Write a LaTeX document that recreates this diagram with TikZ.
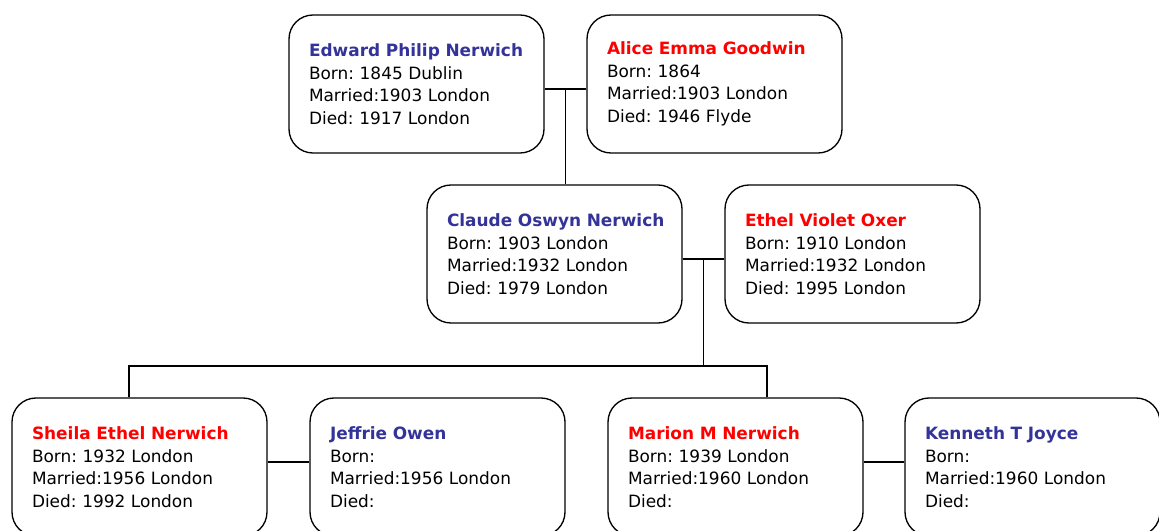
\documentclass[tikz,border=0pt]{standalone}
\usepackage{fontspec}
\setmainfont{DejaVu Sans}
\frenchspacing
\definecolor{mancol}{HTML}{333399}
\definecolor{womancol}{HTML}{FF0000}
\tikzset{
  person/.style={draw,line width=1pt,rounded corners=18pt,
    text width=161.25pt,inner xsep=15pt,inner ysep=0pt,
    minimum height=103.5pt,align=left,
    font=\fontsize{12.7}{16.9}\selectfont},
  link/.style={line width=0.8pt}
}
\newcommand{\him}[1]{\mbox{\textcolor{mancol}{\textbf{#1}}}}
\newcommand{\her}[1]{\mbox{\textcolor{womancol}{\textbf{#1}}}}
\begin{document}
\begin{tikzpicture}[x=0.75pt,y=-0.75pt]
\useasboundingbox (0,0) rectangle (1159,531);
\clip (0,0) rectangle (1159,531);
% first generation
\node[person] (edward) at (416.5,84) {\him{Edward Philip Nerwich}\\Born: 1845 Dublin\\Married:1903 London\\Died: 1917 London};
\node[person] (alice) at (714.5,84) {\her{Alice Emma Goodwin}\\Born: 1864\\Married:1903 London\\Died: 1946 Flyde};
% second generation
\node[person] (claude) at (554.5,254) {\him{Claude Oswyn Nerwich}\\Born: 1903 London\\Married:1932 London\\Died: 1979 London};
\node[person] (ethel) at (852.5,254) {\her{Ethel Violet Oxer}\\Born: 1910 London\\Married:1932 London\\Died: 1995 London};
% third generation
\node[person] (sheila) at (139.5,467) {\her{Sheila Ethel Nerwich}\\Born: 1932 London\\Married:1956 London\\Died: 1992 London};
\node[person] (jeffrie) at (437.5,467) {\him{Jeffrie Owen}\\Born:\\Married:1956 London\\Died:};
\node[person] (marion) at (735.5,467) {\her{Marion M Nerwich}\\Born: 1939 London\\Married:1960 London\\Died:};
\node[person] (kenneth) at (1032.5,467) {\him{Kenneth T Joyce}\\Born:\\Married:1960 London\\Died:};
% marriages and descent
\coordinate (m1) at (565.5,89);
\coordinate (m2) at (703.5,259);
\coordinate (fork) at (703.5,366);
\coordinate (d1) at (129,366);
\coordinate (d2) at (767,366);
\coordinate (m3) at (288.5,462);
\coordinate (m4) at (884.5,462);
\draw[link] (edward.east |- m1) -- (alice.west |- m1);
\draw[link] (m1) -- (m1 |- claude.north);
\draw[link] (claude.east |- m2) -- (ethel.west |- m2);
\draw[link] (m2) -- (fork);
\draw[link] (d1 |- sheila.north) -- (d1) -- (d2) -- (d2 |- marion.north);
\draw[link] (sheila.east |- m3) -- (jeffrie.west |- m3);
\draw[link] (marion.east |- m4) -- (kenneth.west |- m4);
\end{tikzpicture}
\end{document}
